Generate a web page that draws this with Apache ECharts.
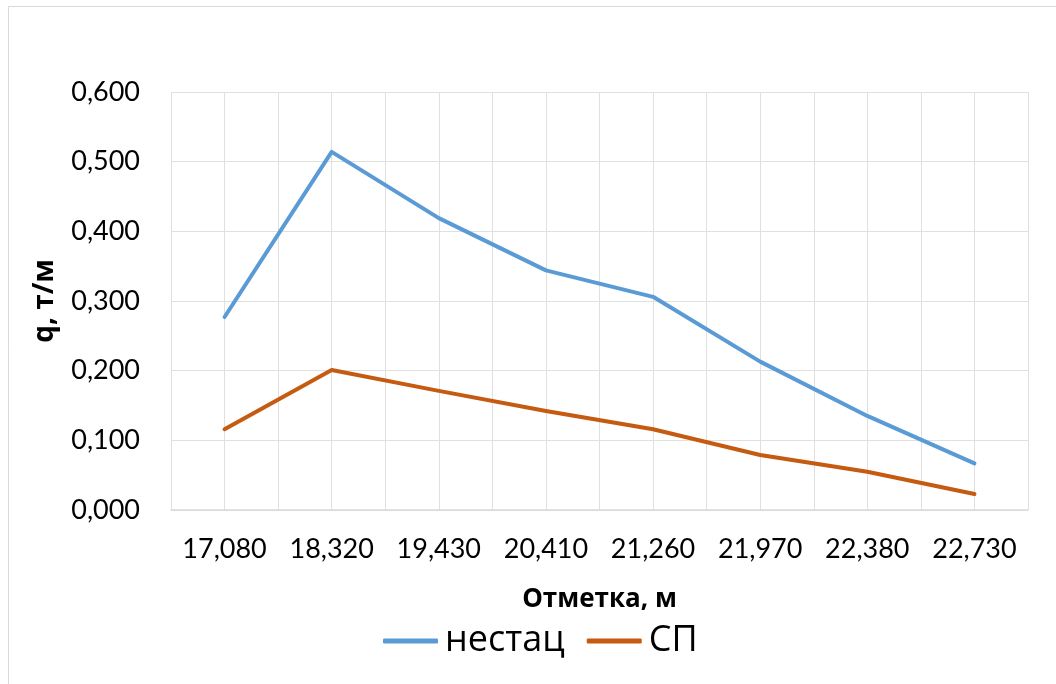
<!DOCTYPE html>
<html>
<head>
<meta charset="utf-8">
<script src="https://cdn.jsdelivr.net/npm/echarts@6/dist/echarts.min.js"></script>
<style>
  html, body { margin: 0; padding: 0; background: #fff; }
  #chart { width: 1056px; height: 684px; }
</style>
</head>
<body>
<div id="chart"></div>
<script>
const categories = ['17,080', '18,320', '19,430', '20,410', '21,260', '21,970', '22,380', '22,730'];
const nestacValues = [0.277, 0.514, 0.419, 0.344, 0.306, 0.213, 0.135, 0.067];
const spValues = [0.116, 0.201, 0.171, 0.142, 0.116, 0.079, 0.055, 0.023];
const seriesNames = ['нестац', 'СП'];
const xTitle = 'Отметка, м';
const yTitle = 'q, т/м';

const halfSlots = categories.flatMap(c => [c + 'a', c + 'b']);

const chart = echarts.init(document.getElementById('chart'), null, { renderer: 'canvas' });
const gridColor = '#e0e0e0';
chart.setOption({
  animation: false,
  backgroundColor: '#ffffff',
  graphic: [{
    type: 'rect',
    shape: { x: 8.5, y: 6.5, width: 1200, height: 800 },
    style: { fill: 'none', stroke: '#d9d9d9', lineWidth: 1 },
    silent: true,
    z: -10
  }],
  grid: { left: 171, right: 28, top: 92, bottom: 174, containLabel: false },
  legend: {
    data: seriesNames,
    bottom: 20,
    left: 378,
    itemWidth: 55,
    itemHeight: 5,
    itemGap: 22,
    icon: 'roundRect',
    textStyle: { fontFamily: '"Open Sans", "Noto Sans", sans-serif', fontSize: 36, color: '#000', padding: [0, 0, 0, 2] }
  },
  xAxis: [{
    type: 'category',
    data: categories,
    boundaryGap: true,
    name: xTitle,
    nameLocation: 'middle',
    nameGap: 77,
    nameTextStyle: { fontFamily: '"Open Sans", "Noto Sans", sans-serif', fontSize: 26, fontWeight: 'bold', color: '#000' },
    axisLine: { show: true, lineStyle: { color: '#d9d9d9', width: 1.5 } },
    axisTick: { show: false },
    axisLabel: { fontFamily: 'Lato, "Open Sans", sans-serif', fontSize: 27, color: '#000', margin: 26, interval: 0 },
    splitLine: { show: false }
  }, {
    type: 'category',
    data: halfSlots,
    boundaryGap: true,
    position: 'bottom',
    axisLine: { show: false },
    axisTick: { show: false },
    axisLabel: { show: false },
    splitLine: { show: true, interval: 0, lineStyle: { color: gridColor, width: 1 } }
  }],
  yAxis: {
    type: 'value',
    min: 0,
    max: 0.6,
    interval: 0.1,
    name: yTitle,
    nameLocation: 'middle',
    nameRotate: 90,
    nameGap: 112,
    nameTextStyle: { fontFamily: '"Open Sans", "Noto Sans", sans-serif', fontSize: 28, fontWeight: 'bold', color: '#000' },
    axisLine: { show: false },
    axisTick: { show: false },
    axisLabel: {
      fontFamily: 'Lato, "Open Sans", sans-serif', fontSize: 27, color: '#000', margin: 31,
      formatter: v => v.toFixed(3).replace('.', ',')
    },
    splitLine: { show: true, lineStyle: { color: gridColor, width: 1 } }
  },
  series: [{
    name: seriesNames[0],
    type: 'line',
    data: nestacValues,
    xAxisIndex: 0,
    symbol: 'none',
    lineStyle: { color: '#5b9bd5', width: 4, cap: 'round', join: 'round' },
    itemStyle: { color: '#5b9bd5' }
  }, {
    name: seriesNames[1],
    type: 'line',
    data: spValues,
    xAxisIndex: 0,
    symbol: 'none',
    lineStyle: { color: '#c55a11', width: 4, cap: 'round', join: 'round' },
    itemStyle: { color: '#c55a11' }
  }]
});
</script>
</body>
</html>
